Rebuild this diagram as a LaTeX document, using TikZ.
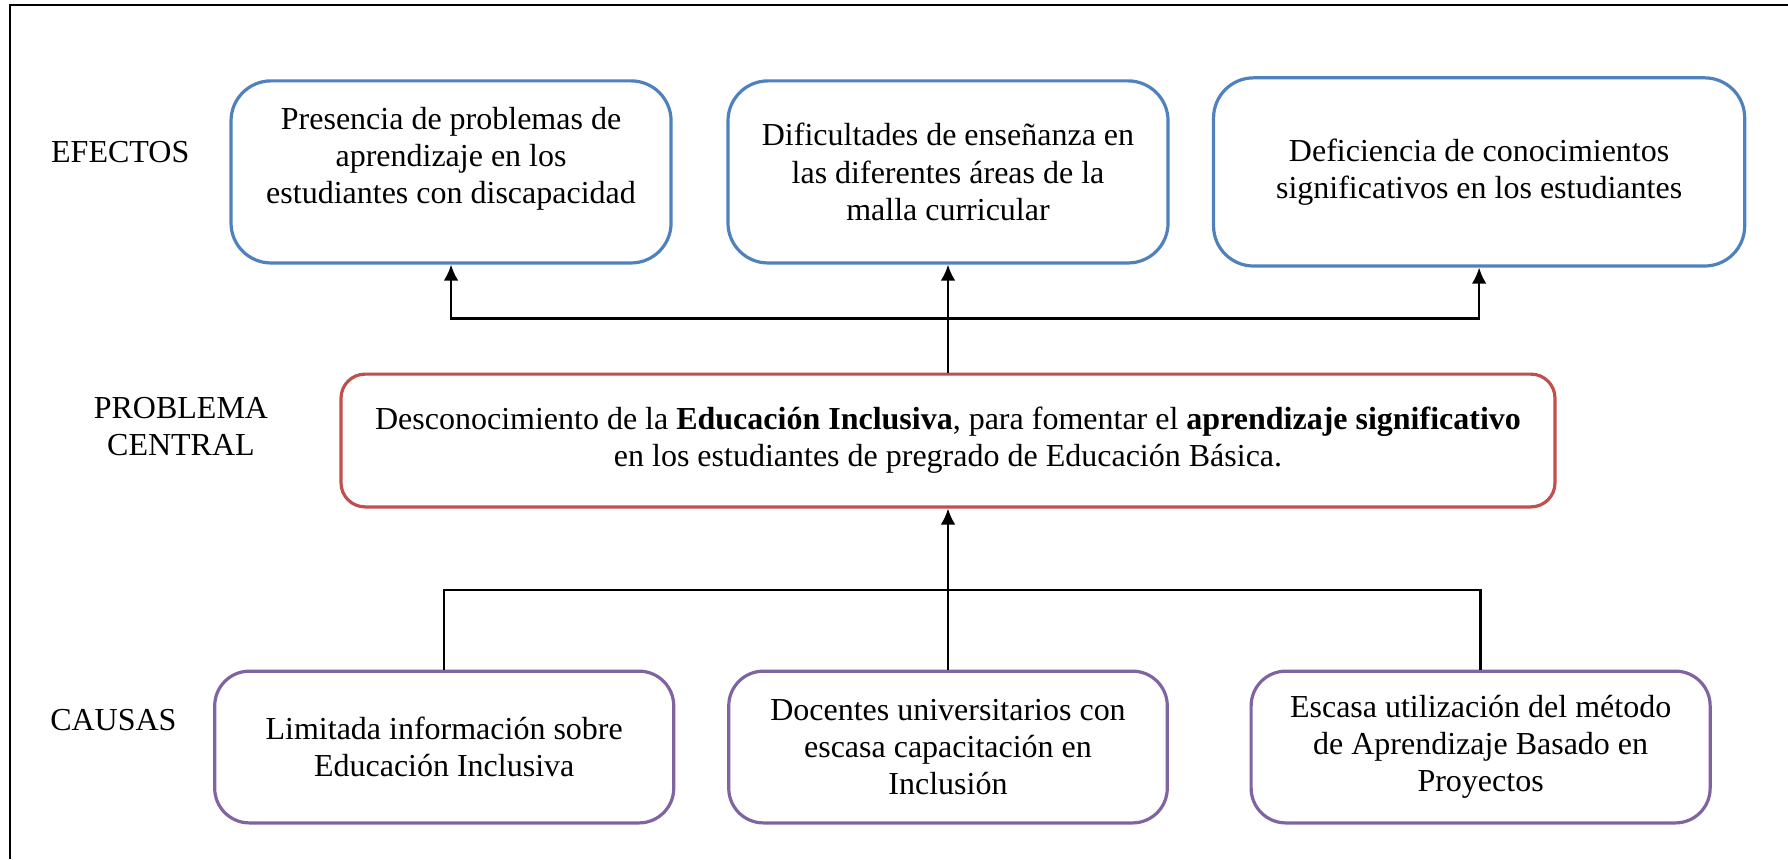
\documentclass[tikz,border=0pt]{standalone}
\usepackage{fontspec}
\setmainfont{Liberation Serif}
\usepackage{tikz}
\usetikzlibrary{arrows.meta}

\definecolor{effect_blue}{RGB}{79,129,189}
\definecolor{problem_red}{RGB}{192,80,77}
\definecolor{cause_purple}{RGB}{128,100,162}

\begin{document}
\begin{tikzpicture}[node distance=1.6cm]
                % Define styles
                \tikzstyle{box_effect} = [font=\fontsize{12}{13.9}\selectfont, rectangle, draw=effect_blue, line width=1.2pt, align=center, rounded corners=15pt, minimum width=5.8cm, minimum height=2.4cm]
                \tikzstyle{box_problem} = [font=\fontsize{12}{13.9}\selectfont, rectangle, draw=problem_red, line width=1.2pt, align=center, rounded corners=9pt, minimum width=16cm, minimum height=1.75cm]
                \tikzstyle{box_cause} = [font=\fontsize{12}{13.9}\selectfont, rectangle, draw=cause_purple, line width=1.2pt, align=center, rounded corners=13pt, minimum width=6.05cm, minimum height=2cm]
                \tikzstyle{row_label} = [font=\fontsize{12}{13.9}\selectfont, align=center]
                \tikzstyle{line} = [draw, line width=0.9pt, -{Latex[length=6pt,width=5.5pt]}]
                \tikzstyle{link} = [draw, line width=0.9pt]

                \useasboundingbox (-12.495,-5.516) rectangle (11.071,5.806);
                \draw [line width=0.8pt] (-12.363,-5.516) -- (-12.363,5.740) -- (11.071,5.740);

                % Nodes
                \node [box_problem] (problem) {Desconocimiento de la \textbf{Educación Inclusiva}, para fomentar el \textbf{aprendizaje significativo}\\en los estudiantes de pregrado de Educación Básica.};

                \node [box_effect, above of=problem, node distance=3.54cm] (effect_mid) {Dificultades de enseñanza en\\las diferentes áreas de la\\malla curricular};
                \node [box_effect, left of=effect_mid, node distance=6.55cm] (effect_left) {Presencia de problemas de\\aprendizaje en los\\estudiantes con discapacidad\\[-0.05cm]};
                \node [box_effect, right of=effect_mid, node distance=7cm, minimum width=7cm, minimum height=2.48cm] (effect_right) {Deficiencia de conocimientos\\significativos en los estudiantes};

                \node [box_cause, below of=problem, node distance=4.04cm, minimum width=5.78cm] (cause_mid) {Docentes universitarios con\\escasa capacitación en\\Inclusión};
                \node [box_cause, left of=cause_mid, node distance=6.64cm] (cause_left) {Limitada información sobre\\Educación Inclusiva};
                \node [box_cause, right of=cause_mid, node distance=7.02cm] (cause_right) {Escasa utilización del método\\de Aprendizaje Basado en\\Proyectos};

                \node [row_label, left of=effect_left, node distance=4.36cm, yshift=0.26cm] (label_effects) {EFECTOS};
                \node [row_label, left of=problem, node distance=10.11cm, yshift=0.18cm] (label_problem) {PROBLEMA\\CENTRAL};
                \node [row_label, left of=cause_left, node distance=4.36cm, yshift=0.35cm] (label_causes) {CAUSAS};

                \coordinate [above of=problem, node distance=1.61cm] (top_bar);
                \coordinate [below of=problem, node distance=1.97cm] (bottom_bar);

                % Lines
                \path [line] (problem) -- (effect_mid);
                \path [line] (problem) |- (top_bar) -| (effect_left);
                \path [line] (problem) |- (top_bar) -| (effect_right);

                \path [link] (cause_left) |- (bottom_bar) -| (cause_right);
                \path [link] (cause_mid) -- (cause_mid |- bottom_bar);
                \path [line] (bottom_bar) -- (problem);
            \end{tikzpicture}
\end{document}
